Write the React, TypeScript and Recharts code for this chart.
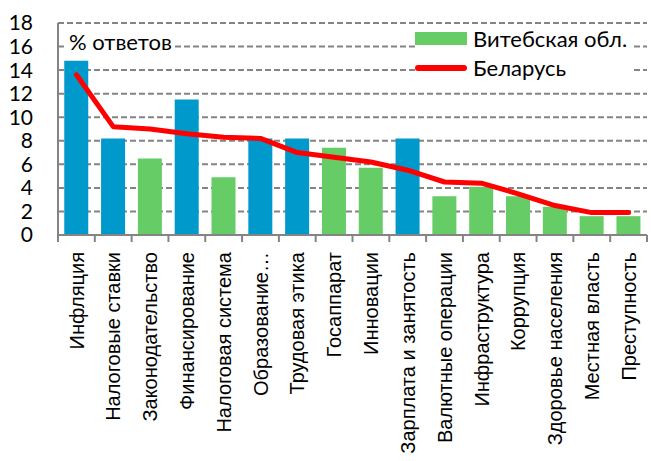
import React from 'react';
import {
  ComposedChart,
  Bar,
  Line,
  XAxis,
  YAxis,
  CartesianGrid,
  Cell,
} from 'recharts';

const categories = [
  'Инфляция',
  'Налоговые ставки',
  'Законодательство',
  'Финансирование',
  'Налоговая система',
  'Образование…',
  'Трудовая этика',
  'Госаппарат',
  'Инновации',
  'Зарплата и занятость',
  'Валютные операции',
  'Инфраструктура',
  'Коррупция',
  'Здоровье населения',
  'Местная власть',
  'Преступность',
];

const vitebskValues = [14.8, 8.2, 6.5, 11.5, 4.9, 8.2, 8.2, 7.4, 5.7, 8.2, 3.3, 4.1, 3.3, 2.4, 1.6, 1.6];
const belarusValues = [13.6, 9.2, 9.0, 8.6, 8.3, 8.2, 7.0, 6.6, 6.2, 5.5, 4.5, 4.4, 3.5, 2.5, 1.9, 1.9];

// categories drawn in blue in the original
const highlighted = [
  'Инфляция',
  'Налоговые ставки',
  'Финансирование',
  'Образование…',
  'Трудовая этика',
  'Зарплата и занятость',
];

const yTicks = [0, 2, 4, 6, 8, 10, 12, 14, 16, 18];

const data = categories.map((name, i) => ({
  name,
  vitebsk: vitebskValues[i],
  belarus: belarusValues[i],
}));

const WIDTH = 651;
const HEIGHT = 461;
const Y_AXIS_W = 58;
const RIGHT = 4;
const BAND = (WIDTH - Y_AXIS_W - RIGHT) / categories.length;

const GREEN = '#66cc66';
const BLUE = '#0099cc';
const RED = '#ff0000';
const GRID = '#848484';

const CategoryTick = (props: any) => {
  const { x, y, payload, index } = props;
  const left = x - BAND / 2;
  return (
    <g>
      <line x1={left} y1={y} x2={left} y2={y + 7} stroke={GRID} strokeWidth={2} />
      {index === categories.length - 1 && (
        <line x1={x + BAND / 2} y1={y} x2={x + BAND / 2} y2={y + 7} stroke={GRID} strokeWidth={2} />
      )}
      <text
        transform={`translate(${x}, ${y + 17}) rotate(-90)`}
        textAnchor="end"
        dy="0.36em"
        fontSize={20}
        fontFamily="Liberation Sans, Arial, sans-serif"
        fill="#000"
      >
        {payload.value}
      </text>
    </g>
  );
};

const textStyle: React.CSSProperties = {
  fontFamily: 'Lato, sans-serif',
  fontSize: 22,
  color: '#000',
};

export default function App() {
  return (
    <div style={{ position: 'absolute', left: 0, top: 0, width: WIDTH, height: HEIGHT, background: '#fff' }}>
      <ComposedChart
        width={WIDTH}
        height={HEIGHT}
        data={data}
        margin={{ top: 23, right: RIGHT, left: 0, bottom: 0 }}
        barCategoryGap="17%"
      >
        <CartesianGrid
          vertical={false}
          stroke={GRID}
          strokeWidth={2}
          strokeDasharray="6 3"
        />
        <XAxis
          dataKey="name"
          interval={0}
          height={HEIGHT - 235}
          axisLine={{ stroke: GRID, strokeWidth: 2 }}
          tickLine={false}
          tickSize={0}
          tickMargin={0}
          tick={<CategoryTick />}
        />
        <YAxis
          width={Y_AXIS_W}
          domain={[0, 18]}
          ticks={yTicks}
          interval={0}
          axisLine={{ stroke: GRID, strokeWidth: 2 }}
          tickLine={false}
          tickSize={0}
          tickMargin={25}
          tick={{ fill: '#000', fontSize: 21, fontFamily: 'Lato, sans-serif' }}
        />
        <Bar dataKey="vitebsk" isAnimationActive={false}>
          {data.map((d, i) => (
            <Cell key={`c-${i}`} fill={highlighted.includes(d.name) ? BLUE : GREEN} />
          ))}
        </Bar>
        <Line
          type="linear"
          dataKey="belarus"
          stroke={RED}
          strokeWidth={5}
          strokeLinecap="round"
          strokeLinejoin="round"
          dot={false}
          activeDot={false}
          isAnimationActive={false}
        />
      </ComposedChart>
      <div
        style={{
          ...textStyle,
          position: 'absolute',
          left: 67,
          top: 29,
          background: '#fff',
          lineHeight: '26px',
          padding: '0 2px',
        }}
      >
        % ответов
      </div>
      <div style={{ ...textStyle, position: 'absolute', left: 415, top: 24, background: '#fff', paddingRight: 4 }}>
        <div style={{ display: 'flex', alignItems: 'center', height: 29 }}>
          <span style={{ width: 52, height: 13, background: GREEN, marginRight: 6 }} />
          Витебская обл.
        </div>
        <div style={{ display: 'flex', alignItems: 'center', height: 29 }}>
          <span style={{ width: 52, height: 6, background: RED, borderRadius: 3, marginRight: 6 }} />
          Беларусь
        </div>
      </div>
    </div>
  );
}
